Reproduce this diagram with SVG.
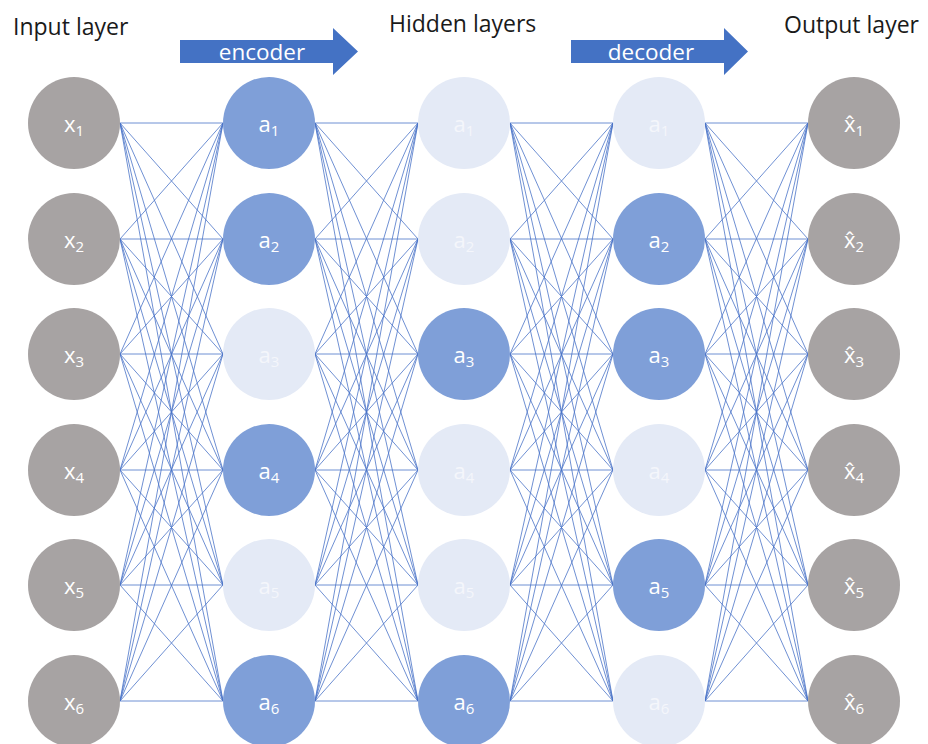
<svg xmlns="http://www.w3.org/2000/svg" xmlns:xlink="http://www.w3.org/1999/xlink" width="928" height="744" viewBox="0 0 928 744">
<style>
.title{font-family:"Open Sans","Liberation Sans",sans-serif;font-size:23px;fill:#1a1a1a}
.arrow{fill:#4472C4}
.atext{font-family:"Open Sans","Liberation Sans",sans-serif;font-size:22.5px;fill:#ffffff;text-anchor:middle}
.gray{fill:#a7a3a3}
.dark{fill:#7f9fd8}
.light{fill:#e4eaf6}
.lbl{font-family:"Open Sans","Liberation Sans",sans-serif;font-size:22px;fill:#ffffff;text-anchor:middle}
.lbl.dim{fill:#f4f6fb}
.sub{font-size:15px}
.mesh line{stroke:#4a74c8;stroke-width:0.8}
</style>
<defs>
<g id="mesh" class="mesh">
<line x1="0" y1="123" x2="103" y2="123"/><line x1="0" y1="123" x2="103" y2="239"/><line x1="0" y1="123" x2="103" y2="354"/><line x1="0" y1="123" x2="103" y2="470"/><line x1="0" y1="123" x2="103" y2="585"/><line x1="0" y1="123" x2="103" y2="701"/>
<line x1="0" y1="239" x2="103" y2="123"/><line x1="0" y1="239" x2="103" y2="239"/><line x1="0" y1="239" x2="103" y2="354"/><line x1="0" y1="239" x2="103" y2="470"/><line x1="0" y1="239" x2="103" y2="585"/><line x1="0" y1="239" x2="103" y2="701"/>
<line x1="0" y1="354" x2="103" y2="123"/><line x1="0" y1="354" x2="103" y2="239"/><line x1="0" y1="354" x2="103" y2="354"/><line x1="0" y1="354" x2="103" y2="470"/><line x1="0" y1="354" x2="103" y2="585"/><line x1="0" y1="354" x2="103" y2="701"/>
<line x1="0" y1="470" x2="103" y2="123"/><line x1="0" y1="470" x2="103" y2="239"/><line x1="0" y1="470" x2="103" y2="354"/><line x1="0" y1="470" x2="103" y2="470"/><line x1="0" y1="470" x2="103" y2="585"/><line x1="0" y1="470" x2="103" y2="701"/>
<line x1="0" y1="585" x2="103" y2="123"/><line x1="0" y1="585" x2="103" y2="239"/><line x1="0" y1="585" x2="103" y2="354"/><line x1="0" y1="585" x2="103" y2="470"/><line x1="0" y1="585" x2="103" y2="585"/><line x1="0" y1="585" x2="103" y2="701"/>
<line x1="0" y1="701" x2="103" y2="123"/><line x1="0" y1="701" x2="103" y2="239"/><line x1="0" y1="701" x2="103" y2="354"/><line x1="0" y1="701" x2="103" y2="470"/><line x1="0" y1="701" x2="103" y2="585"/><line x1="0" y1="701" x2="103" y2="701"/>
</g>
</defs>
<rect width="928" height="744" fill="#ffffff"/>

<g id="titles">
<text class="title" x="13" y="35">Input layer</text>
<text class="title" x="389" y="32">Hidden layers</text>
<text class="title" x="784" y="33">Output layer</text>
</g>

<g id="encoder-arrow">
<polygon class="arrow" points="180,40 333,40 333,28 358,51.5 333,75 333,63 180,63"/>
<text class="atext" x="262" y="60">encoder</text>
</g>
<g id="decoder-arrow">
<polygon class="arrow" points="571,40 724,40 724,28 748,51.5 724,75 724,63 571,63"/>
<text class="atext" x="651" y="60">decoder</text>
</g>

<g id="connectors">
<use xlink:href="#mesh" x="120"/>
<use xlink:href="#mesh" x="315"/>
<use xlink:href="#mesh" x="510"/>
<use xlink:href="#mesh" x="705"/>
</g>

<g id="input-layer">
<g id="x1"><circle class="gray" cx="74" cy="123" r="46"/><text class="lbl" x="74" y="132">x<tspan class="sub" dy="4">1</tspan></text></g>
<g id="x2"><circle class="gray" cx="74" cy="239" r="46"/><text class="lbl" x="74" y="248">x<tspan class="sub" dy="4">2</tspan></text></g>
<g id="x3"><circle class="gray" cx="74" cy="354" r="46"/><text class="lbl" x="74" y="363">x<tspan class="sub" dy="4">3</tspan></text></g>
<g id="x4"><circle class="gray" cx="74" cy="470" r="46"/><text class="lbl" x="74" y="479">x<tspan class="sub" dy="4">4</tspan></text></g>
<g id="x5"><circle class="gray" cx="74" cy="585" r="46"/><text class="lbl" x="74" y="594">x<tspan class="sub" dy="4">5</tspan></text></g>
<g id="x6"><circle class="gray" cx="74" cy="701" r="46"/><text class="lbl" x="74" y="710">x<tspan class="sub" dy="4">6</tspan></text></g>
</g>

<g id="hidden-1">
<g id="h1a1"><circle class="dark" cx="269" cy="123" r="46"/><text class="lbl" x="269" y="132">a<tspan class="sub" dy="4">1</tspan></text></g>
<g id="h1a2"><circle class="dark" cx="269" cy="239" r="46"/><text class="lbl" x="269" y="248">a<tspan class="sub" dy="4">2</tspan></text></g>
<g id="h1a3"><circle class="light" cx="269" cy="354" r="46"/><text class="lbl dim" x="269" y="363">a<tspan class="sub" dy="4">3</tspan></text></g>
<g id="h1a4"><circle class="dark" cx="269" cy="470" r="46"/><text class="lbl" x="269" y="479">a<tspan class="sub" dy="4">4</tspan></text></g>
<g id="h1a5"><circle class="light" cx="269" cy="585" r="46"/><text class="lbl dim" x="269" y="594">a<tspan class="sub" dy="4">5</tspan></text></g>
<g id="h1a6"><circle class="dark" cx="269" cy="701" r="46"/><text class="lbl" x="269" y="710">a<tspan class="sub" dy="4">6</tspan></text></g>
</g>

<g id="hidden-2">
<g id="h2a1"><circle class="light" cx="464" cy="123" r="46"/><text class="lbl dim" x="464" y="132">a<tspan class="sub" dy="4">1</tspan></text></g>
<g id="h2a2"><circle class="light" cx="464" cy="239" r="46"/><text class="lbl dim" x="464" y="248">a<tspan class="sub" dy="4">2</tspan></text></g>
<g id="h2a3"><circle class="dark" cx="464" cy="354" r="46"/><text class="lbl" x="464" y="363">a<tspan class="sub" dy="4">3</tspan></text></g>
<g id="h2a4"><circle class="light" cx="464" cy="470" r="46"/><text class="lbl dim" x="464" y="479">a<tspan class="sub" dy="4">4</tspan></text></g>
<g id="h2a5"><circle class="light" cx="464" cy="585" r="46"/><text class="lbl dim" x="464" y="594">a<tspan class="sub" dy="4">5</tspan></text></g>
<g id="h2a6"><circle class="dark" cx="464" cy="701" r="46"/><text class="lbl" x="464" y="710">a<tspan class="sub" dy="4">6</tspan></text></g>
</g>

<g id="hidden-3">
<g id="h3a1"><circle class="light" cx="659" cy="123" r="46"/><text class="lbl dim" x="659" y="132">a<tspan class="sub" dy="4">1</tspan></text></g>
<g id="h3a2"><circle class="dark" cx="659" cy="239" r="46"/><text class="lbl" x="659" y="248">a<tspan class="sub" dy="4">2</tspan></text></g>
<g id="h3a3"><circle class="dark" cx="659" cy="354" r="46"/><text class="lbl" x="659" y="363">a<tspan class="sub" dy="4">3</tspan></text></g>
<g id="h3a4"><circle class="light" cx="659" cy="470" r="46"/><text class="lbl dim" x="659" y="479">a<tspan class="sub" dy="4">4</tspan></text></g>
<g id="h3a5"><circle class="dark" cx="659" cy="585" r="46"/><text class="lbl" x="659" y="594">a<tspan class="sub" dy="4">5</tspan></text></g>
<g id="h3a6"><circle class="light" cx="659" cy="701" r="46"/><text class="lbl dim" x="659" y="710">a<tspan class="sub" dy="4">6</tspan></text></g>
</g>

<g id="output-layer">
<g id="y1"><circle class="gray" cx="854" cy="123" r="46"/><text class="lbl" x="854" y="132">x̂<tspan class="sub" dy="4">1</tspan></text></g>
<g id="y2"><circle class="gray" cx="854" cy="239" r="46"/><text class="lbl" x="854" y="248">x̂<tspan class="sub" dy="4">2</tspan></text></g>
<g id="y3"><circle class="gray" cx="854" cy="354" r="46"/><text class="lbl" x="854" y="363">x̂<tspan class="sub" dy="4">3</tspan></text></g>
<g id="y4"><circle class="gray" cx="854" cy="470" r="46"/><text class="lbl" x="854" y="479">x̂<tspan class="sub" dy="4">4</tspan></text></g>
<g id="y5"><circle class="gray" cx="854" cy="585" r="46"/><text class="lbl" x="854" y="594">x̂<tspan class="sub" dy="4">5</tspan></text></g>
<g id="y6"><circle class="gray" cx="854" cy="701" r="46"/><text class="lbl" x="854" y="710">x̂<tspan class="sub" dy="4">6</tspan></text></g>
</g>
</svg>
